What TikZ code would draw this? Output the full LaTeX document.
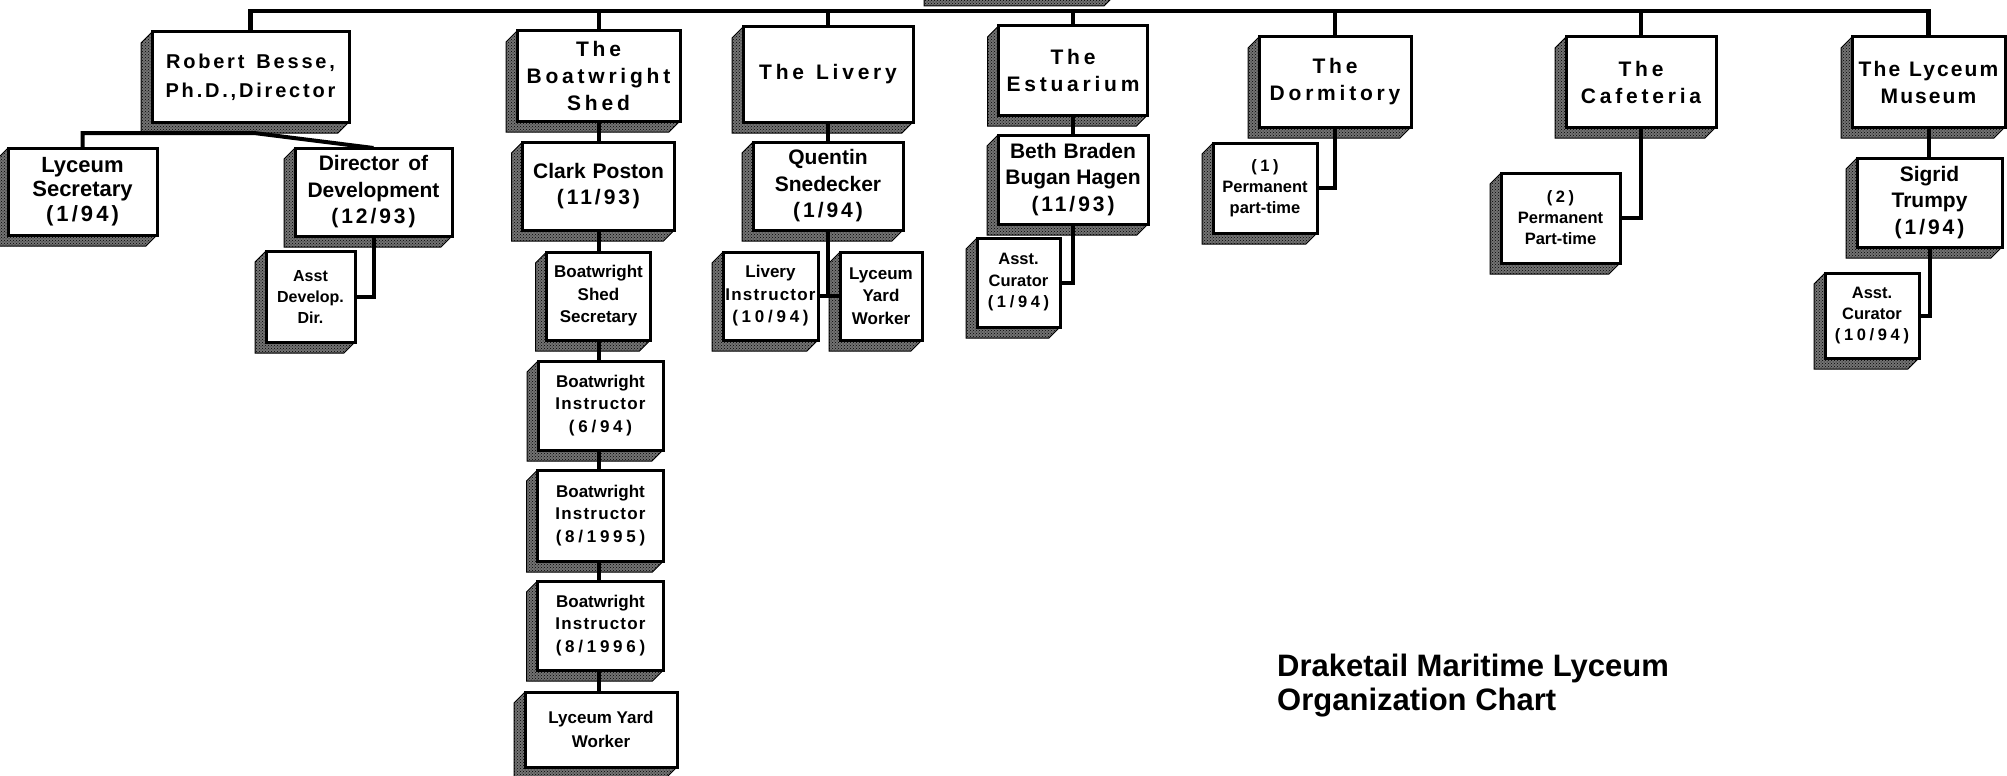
\documentclass[tikz,border=0pt]{standalone}
\usepackage{fontspec}
\setmainfont{Liberation Sans}
\newfontfamily\hdfont{Liberation Sans Bold}[LetterSpace=18]
\newfontfamily\rbfont{Liberation Sans Bold}[LetterSpace=14]
\newfontfamily\lmfont{Liberation Sans Bold}[LetterSpace=10]
\newfontfamily\dtfont{Liberation Sans Bold}[LetterSpace=14]
\newfontfamily\sdtfont{Liberation Sans Bold}[LetterSpace=22]
\newfontfamily\insfont{Liberation Sans Bold}[LetterSpace=7]
\usetikzlibrary{calc,backgrounds,patterns}
\tikzset{
  box/.style={draw, line width=3pt, fill=white, inner sep=0pt, outer sep=0pt, align=center},
  wh/.style 2 args={minimum width=#1pt, minimum height=#2pt},
  big/.style={box, font=\bfseries\fontsize{21}{26.5}\selectfont},
  hdr/.style={box, font=\hdfont\fontsize{21}{27}\selectfont},
  sml/.style={box, font=\bfseries\fontsize{17}{22.5}\selectfont},
  shd/.style={preaction={fill=black!55}, pattern=crosshatch dots, pattern color=black, draw=black, line width=1pt},
  wire/.style={line width=4pt, line join=miter},
  topwire/.style={line width=4.5pt, line join=miter},
}
\newcommand\shadowof[1]{\path[shd] (#1.north west) -- ++(-11,11) -- ($(#1.south west)+(-11,11)$) -- ($(#1.south east)+(-11,11)$) -- (#1.south east) -- cycle;}
\begin{document}
\begin{tikzpicture}[x=1pt,y=-1pt]
\useasboundingbox (0,0) rectangle (2007,776);
\clip (0,0) rectangle (2007,776);
% boxes
\node[box, wh={197}{90}, font=\rbfont\fontsize{20}{29}\selectfont] (R) at (250.5,77) {Robert\hspace{12pt}Besse,\\Ph.D.,Director};
\node[box, wh={149}{87}, font=\bfseries\fontsize{22}{24.5}\selectfont] (LS) at (82.5,191.5) {Lyceum\\Secretary\\{\dtfont (1/94)}};
\node[big, wh={157}{88}] (DD) at (373.5,192) {Director\hspace{9pt}of\\Development\\{\dtfont (12/93)}};
\node[sml, wh={89}{91}, font=\bfseries\fontsize{16}{21}\selectfont] (AD) at (310.5,296.5) {Asst\\Develop.\\Dir.};
\node[hdr, wh={163}{90}] (BS) at (598.5,76) {The\\Boatwright\\Shed};
\node[big, wh={152}{88}] (CP) at (598.5,186) {Clark\hspace{7pt}Poston\\{\dtfont (11/93)}};
\node[sml, wh={104}{88}] (BSS) at (598.5,296) {Boatwright\\Shed\\Secretary};
\node[sml, wh={125}{89}] (BI1) at (600.5,405.5) {Boatwright\\{\insfont Instructor}\\{\sdtfont (6/94)}};
\node[sml, wh={126}{91}] (BI2) at (600.5,515.5) {Boatwright\\{\insfont Instructor}\\{\sdtfont (8/1995)}};
\node[sml, wh={126}{89}] (BI3) at (600.5,625.5) {Boatwright\\{\insfont Instructor}\\{\sdtfont (8/1996)}};
\node[sml, wh={152}{75}, font=\bfseries\fontsize{17}{24}\selectfont] (LYW) at (601,729.5) {Lyceum Yard\\Worker};
\node[hdr, wh={170}{95}] (LV) at (828,74.5) {The\hspace{12pt}Livery};
\node[big, wh={150}{88}] (QS) at (828,186) {Quentin\\Snedecker\\{\dtfont (1/94)}};
\node[sml, wh={95}{88}] (LI) at (770.5,296) {Livery\\{\insfont Instructor}\\{\sdtfont (10/94)}};
\node[sml, wh={82}{88}] (LYW2) at (881,296) {Lyceum\\Yard\\Worker};
\node[hdr, wh={149}{89}] (ES) at (1073,70.5) {The\\Estuarium};
\node[big, wh={150}{89}] (BB) at (1073,179.5) {Beth\hspace{7pt}Braden\\Bugan Hagen\\{\dtfont (11/93)}};
\node[sml, wh={83}{89}, font=\bfseries\fontsize{16.5}{21.5}\selectfont] (AC1) at (1018.5,282.5) {Asst.\\Curator\\{\sdtfont (1/94)}};
\node[hdr, wh={152}{90}] (DO) at (1335,82) {The\\Dormitory};
\node[sml, wh={104}{90}, font=\bfseries\fontsize{16.5}{21}\selectfont] (P1) at (1265,188) {{\sdtfont (1)}\\Permanent\\part-time};
\node[hdr, wh={150}{90}] (CA) at (1641,82) {The\\Cafeteria};
\node[sml, wh={119}{90}, font=\bfseries\fontsize{16.5}{21}\selectfont] (P2) at (1560.5,218) {{\sdtfont (2)}\\Permanent\\Part-time};
\node[box, wh={153}{90}, font=\lmfont\fontsize{21}{27}\selectfont] (LM) at (1928.5,82) {The\hspace{9pt}Lyceum\\Museum};
\node[big, wh={145}{89}] (ST) at (1929.5,202.5) {Sigrid\\Trumpy\\{\dtfont (1/94)}};
\node[sml, wh={94}{85}, font=\bfseries\fontsize{16.5}{21}\selectfont] (AC2) at (1872,315.5) {Asst.\\Curator\\{\sdtfont (10/94)}};
% title
\node[anchor=north west, align=left, inner sep=0pt, font=\bfseries\fontsize{31}{34}\selectfont] (title) at (1277,654) {Draketail Maritime Lyceum\\Organization Chart};
% helper coordinates
\coordinate (topL) at (248,11);
\coordinate (rj) at (254,133);
\begin{scope}[on background layer]
  % shadows
  \foreach \n in {R,LS,DD,AD,BS,CP,BSS,BI1,BI2,BI3,LYW,LV,QS,LI,LYW2,ES,BB,AC1,DO,P1,CA,P2,LM,ST,AC2} {\shadowof{\n}}
  % shadow of the top box (cut off by the page edge)
  \path[shd] (924,-8) -- (924,6) -- (1104,6) -- (1117,-7) -- cycle;
  % top bar
  \draw[topwire] (R.north) -- (R.north |- topL) -- (LM.north |- topL) -- (LM.north);
  \foreach \n in {BS,LV,ES,DO,CA} {\draw[wire] (\n.north) -- (\n.north |- topL);}
  % director's branch
  \draw[wire] (LS.north) -- (LS.north |- rj) -- (rj) -- (DD.north);
  \draw[wire] (DD.south) -- (DD.south |- AD.east) -- (AD.east);
  % boatwright column
  \draw[wire] (BS.south) -- (BS.south |- LYW.north);
  % livery
  \draw[wire] (LV.south) -- (LV.south |- QS.north);
  \draw[wire] (QS.south) -- (QS.south |- LI.east);
  \draw[wire] (LI.east) -- (LYW2.west);
  % estuarium
  \draw[wire] (ES.south) -- (ES.south |- BB.north);
  \draw[wire] (BB.south) -- (BB.south |- AC1.east) -- (AC1.east);
  % dormitory, cafeteria
  \draw[wire] (DO.south) -- (DO.south |- P1.east) -- (P1.east);
  \draw[wire] (CA.south) -- (CA.south |- P2.east) -- (P2.east);
  % museum
  \draw[wire] (LM.south) -- (LM.south |- ST.north);
  \draw[wire] (ST.south) -- (ST.south |- AC2.east) -- (AC2.east);
\end{scope}
\end{tikzpicture}
\end{document}
